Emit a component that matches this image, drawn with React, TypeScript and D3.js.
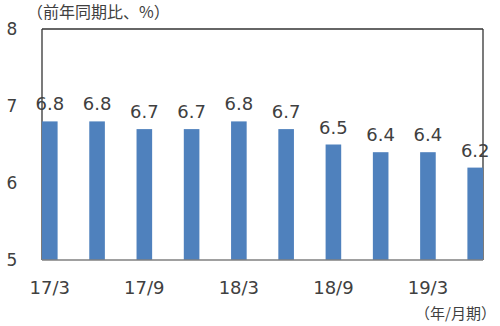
import React from "react";
import * as d3 from "d3";

const categories = ["17/3", "17/6", "17/9", "17/12", "18/3", "18/6", "18/9", "18/12", "19/3", "19/6"];
const values = [6.8, 6.8, 6.7, 6.7, 6.8, 6.7, 6.5, 6.4, 6.4, 6.2];
const tickLabels = ["17/3", "17/9", "18/3", "18/9", "19/3"];
const yTicks = [5, 6, 7, 8];
const yTitle = "（前年同期比、%）";
const xTitle = "（年/月期）";

const W = 500, H = 326;
const left = 42, right = 483, top = 29, bottom = 260;
const barW = 15.6;

export default function App() {
  const y = d3.scaleLinear().domain([5, 8]).range([bottom, top]);
  const x = d3
    .scalePoint<string>()
    .domain(categories)
    .range([left + barW / 2, right - barW / 2]);
  const numFont = "'DejaVu Sans', Verdana, sans-serif";
  const cjkFont = "'Noto Sans CJK JP', 'DejaVu Sans', sans-serif";
  return (
    <svg
      width={W}
      height={H}
      style={{ position: "absolute", left: 0, top: 0, background: "#fff" }}
    >
      <rect x={0} y={0} width={W} height={H} fill="#fff" />
      {/* frame */}
      <line x1={left} x2={right} y1={top} y2={top} stroke="#333" strokeWidth={1.3} />
      <line x1={left} x2={left} y1={top} y2={bottom} stroke="#333" strokeWidth={1.3} />
      <line x1={right} x2={right} y1={top} y2={bottom} stroke="#333" strokeWidth={1.3} />
      {values.map((v, i) => (
        <rect
          key={i}
          x={(x(categories[i]) as number) - barW / 2}
          y={y(v)}
          width={barW}
          height={y(5) - y(v)}
          fill="#4F81BD"
        />
      ))}
      <line x1={left} x2={right} y1={bottom} y2={bottom} stroke="#808080" strokeWidth={1.3} />
      {values.map((v, i) => (
        <text
          key={"l" + i}
          x={x(categories[i]) as number}
          y={y(v) - 11}
          textAnchor="middle"
          fontFamily={numFont}
          fontSize={18}
          fill="#404040"
        >
          {v.toFixed(1)}
        </text>
      ))}
      {yTicks.map((t) => (
        <text
          key={"y" + t}
          x={12}
          y={y(t)}
          dy="0.35em"
          textAnchor="middle"
          fontFamily={numFont}
          fontSize={17}
          fill="#404040"
        >
          {t}
        </text>
      ))}
      {tickLabels.map((c) => (
        <text
          key={"x" + c}
          x={x(c) as number}
          y={294}
          textAnchor="middle"
          fontFamily={numFont}
          fontSize={18}
          fill="#404040"
        >
          {c}
        </text>
      ))}
      <text x={27} y={18} fontFamily={cjkFont} fontSize={16} fill="#404040">
        {yTitle}
      </text>
      <text x={496} y={319} textAnchor="end" fontFamily={cjkFont} fontSize={15} fill="#404040">
        {xTitle}
      </text>
    </svg>
  );
}
